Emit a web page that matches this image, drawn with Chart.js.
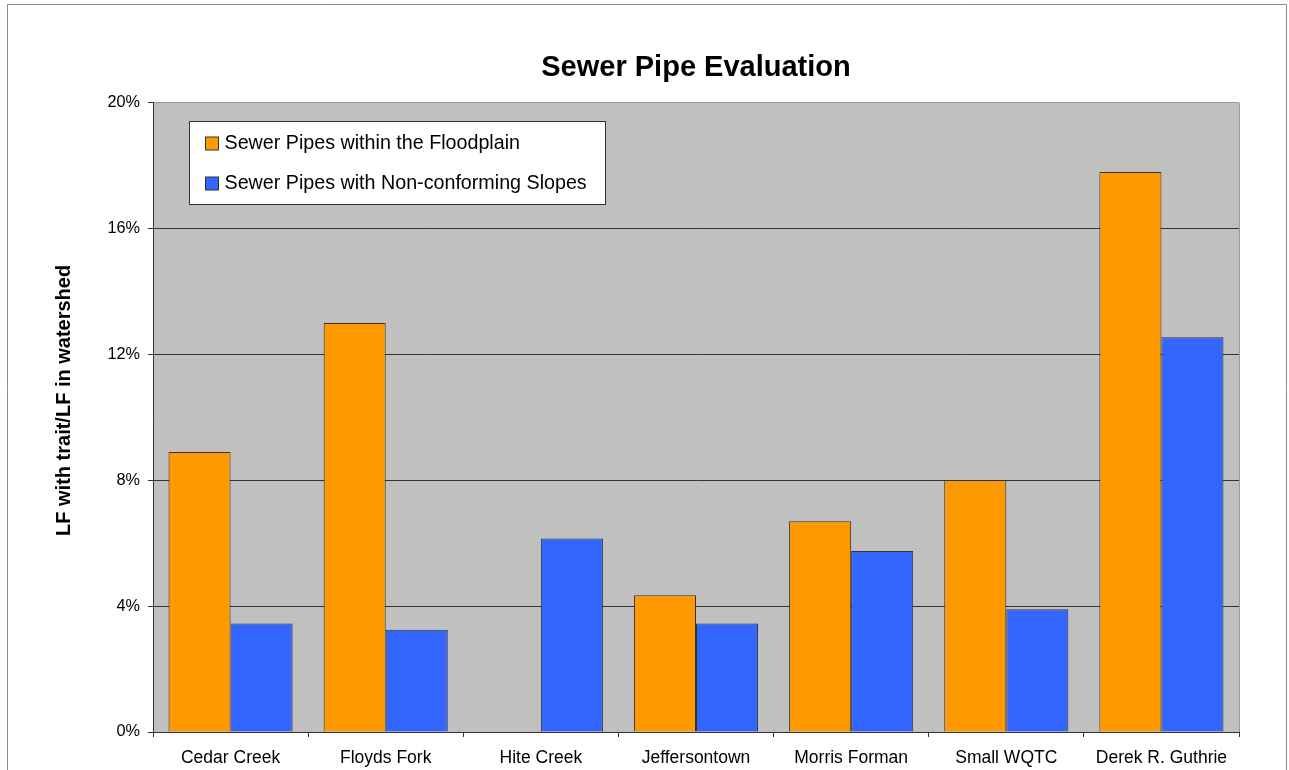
<!DOCTYPE html>
<html>
<head>
<meta charset="utf-8">
<title>Sewer Pipe Evaluation</title>
<script src="https://cdn.jsdelivr.net/npm/chart.js@4.4.1/dist/chart.umd.min.js"></script>
<style>
  html, body { margin: 0; padding: 0; background: #ffffff; }
  #wrap { width: 1289px; height: 770px; position: relative; }
  canvas { display: block; }
</style>
</head>
<body>
<div id="wrap"><canvas id="chart" width="1289" height="770"></canvas></div>
<script>
// Watersheds along the category axis
const watersheds = ['Cedar Creek', 'Floyds Fork', 'Hite Creek', 'Jeffersontown',
                    'Morris Forman', 'Small WQTC', 'Derek R. Guthrie'];

// Share of linear feet (%) having each trait
const floodplainPct = [8.9, 13.0, 0, 4.35, 6.7, 8.0, 17.8];
const slopePct      = [3.45, 3.25, 6.15, 3.45, 5.75, 3.9, 12.55];

const seriesNames = ['Sewer Pipes within the Floodplain',
                     'Sewer Pipes with Non-conforming Slopes'];

const valueAxisTitle = 'LF with trait/LF in watershed';

// Value axis settings
const yMax = 20;
const yStep = 4;

const FONT = 'Liberation Sans, Arial, Helvetica, sans-serif';

// White page, thin outer frame and the grey plot panel
const panelPlugin = {
  id: 'panel',
  beforeDraw(chart) {
    const { ctx, chartArea: a, width, height } = chart;
    ctx.save();
    ctx.fillStyle = '#ffffff';
    ctx.fillRect(0, 0, width, height);
    ctx.strokeStyle = '#8a8a8a';
    ctx.lineWidth = 1;
    ctx.beginPath();
    ctx.moveTo(7.5, height + 2);
    ctx.lineTo(7.5, 4.5);
    ctx.lineTo(width - 2.5, 4.5);
    ctx.lineTo(width - 2.5, height + 2);
    ctx.stroke();
    ctx.fillStyle = '#c0c0c0';
    ctx.fillRect(a.left, a.top, a.right - a.left, a.bottom - a.top);
    ctx.strokeStyle = '#9a9a9a';
    ctx.beginPath();
    ctx.moveTo(Math.round(a.right) + 0.5, a.top);
    ctx.lineTo(Math.round(a.right) + 0.5, a.bottom);
    ctx.stroke();
    ctx.restore();
  },
  // rotated value-axis caption, set a little above the panel's middle
  afterDraw(chart) {
    const { ctx, chartArea: a } = chart;
    ctx.save();
    ctx.translate(64, (a.top + a.bottom) / 2 - 17);
    ctx.rotate(-Math.PI / 2);
    ctx.font = 'bold 20px ' + FONT;
    ctx.fillStyle = '#000000';
    ctx.textAlign = 'center';
    ctx.textBaseline = 'middle';
    ctx.fillText(valueAxisTitle, 0, 0);
    ctx.restore();
  }
};

// Boxed legend sitting inside the plot panel
const boxLegendPlugin = {
  id: 'boxLegend',
  afterDatasetsDraw(chart) {
    const { ctx, chartArea: a } = chart;
    const x = Math.round(a.left + 36) + 0.5;
    const y = Math.round(a.top + 18) + 0.5;
    const w = 416, h = 83;
    ctx.save();
    ctx.fillStyle = '#ffffff';
    ctx.fillRect(x, y, w, h);
    ctx.strokeStyle = '#333333';
    ctx.lineWidth = 1;
    ctx.strokeRect(x, y, w, h);
    ctx.font = '19.7px ' + FONT;
    ctx.textBaseline = 'middle';
    chart.data.datasets.forEach((ds, i) => {
      const cy = y + 22 + i * 40;
      ctx.fillStyle = ds.backgroundColor;
      ctx.fillRect(x + 16, cy - 6.5, 13, 13);
      ctx.strokeStyle = '#333333';
      ctx.strokeRect(x + 16, cy - 6.5, 13, 13);
      ctx.fillStyle = '#000000';
      ctx.fillText(ds.label, x + 35, cy);
    });
    ctx.restore();
  }
};

new Chart(document.getElementById('chart'), {
  type: 'bar',
  data: {
    labels: watersheds,
    datasets: [
      {
        label: seriesNames[0],
        data: floodplainPct,
        backgroundColor: '#ff9900',
        borderColor: '#333333',
        borderWidth: 1,
        categoryPercentage: 0.8,
        barPercentage: 1.0
      },
      {
        label: seriesNames[1],
        data: slopePct,
        backgroundColor: '#3366ff',
        borderColor: '#333333',
        borderWidth: 1,
        categoryPercentage: 0.8,
        barPercentage: 1.0
      }
    ]
  },
  options: {
    responsive: false,
    animation: false,
    devicePixelRatio: 1,
    layout: { padding: { left: 0, right: 50, top: 0, bottom: 0 } },
    plugins: {
      legend: { display: false },
      tooltip: { enabled: false },
      title: {
        display: true,
        fullSize: false,
        text: 'Sewer Pipe Evaluation',
        color: '#000000',
        font: { family: FONT, size: 29, weight: 'bold' },
        padding: { top: 51, bottom: 17 }
      }
    },
    scales: {
      x: {
        grid: {
          display: true,
          drawOnChartArea: false,
          drawTicks: true,
          tickLength: 5,
          offset: true,
          color: '#333333'
        },
        border: { display: true, color: '#333333', width: 1 },
        ticks: {
          color: '#000000',
          font: { family: FONT, size: 17.5 },
          padding: 11,
          maxRotation: 0,
          autoSkip: false
        },
        afterFit(scale) { scale.height = 38; }
      },
      y: {
        min: 0,
        max: yMax,
        grid: {
          color: (c) => (c.tick && c.tick.value === yMax ? '#9a9a9a' : '#333333'),
          tickColor: '#333333',
          tickLength: 5,
          drawTicks: true
        },
        border: { display: true, color: '#333333', width: 1 },
        ticks: {
          stepSize: yStep,
          color: '#000000',
          font: { family: FONT, size: 16.3 },
          padding: 8,
          callback: (v) => v + '%'
        },
        afterFit(scale) { scale.width = 153; }
      }
    }
  },
  plugins: [panelPlugin, boxLegendPlugin]
});
</script>
</body>
</html>
